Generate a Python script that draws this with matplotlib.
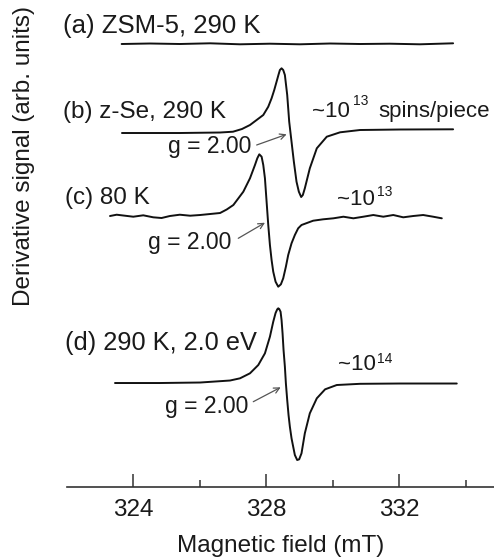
# EPR derivative spectra of ZSM-5 and z-Se, stacked with offsets.
import matplotlib
matplotlib.use("Agg")
import matplotlib.pyplot as plt
from matplotlib.ticker import MultipleLocator, FixedLocator

plt.rcParams["font.family"] = ["Liberation Sans", "DejaVu Sans"]

# (a) ZSM-5, 290 K : field (mT) and signal (arb. units)
field_a = [323.65, 324.50, 325.40, 326.31, 327.21, 328.11, 329.01, 329.92,
           330.82, 331.72, 332.62, 333.62]
signal_a = [0.0, 0.5, 0.0, 0.7, -0.3, 0.3, -0.3, 0.5, 0.0, 0.3, -0.3, 0.7]

# (b) z-Se, 290 K
field_b = [323.66, 325.40, 326.61, 327.00, 327.27, 327.51, 327.91, 328.06,
           328.16, 328.24, 328.31, 328.37, 328.41, 328.46, 328.51, 328.56,
           328.63, 328.69, 328.76, 328.83, 328.91, 328.98, 329.05, 329.10,
           329.16, 329.31, 329.52, 329.82, 330.22, 330.82, 332.02, 333.62]
signal_b = [0.0, 0.0, 0.5, 1.3, 4.0, 8.0, 18.0, 26.3,
            34.7, 43.0, 51.3, 58.5, 63.0, 64.7, 63.0, 58.0,
            38.0, 11.3, -8.7, -28.7, -48.7, -58.7, -64.0, -62.0,
            -55.3, -35.3, -15.3, -3.7, 0.7, 3.0, 3.5, 3.7]

# (c) z-Se, 80 K
field_c = [323.30, 323.50, 323.75, 324.00, 324.30, 324.60, 324.85, 325.10,
           325.40, 325.71, 326.01, 326.31, 326.61, 326.81, 327.01, 327.31,
           327.51, 327.66, 327.73, 327.79, 327.86, 327.91, 327.96, 328.01,
           328.06, 328.11, 328.16, 328.21, 328.28, 328.36, 328.44, 328.51,
           328.59, 328.66, 328.76, 328.86, 328.96, 329.06, 329.41, 329.71,
           330.02, 330.32, 330.62, 330.92, 331.22, 331.52, 331.82, 332.12,
           332.42, 332.72, 333.02, 333.28]
signal_c = [0.5, 1.8, 0.8, -0.2, 1.2, -0.8, -1.5, 0.5,
            1.8, 0.8, 1.5, 2.5, 3.5, 7.0, 11.5, 24.8,
            38.2, 51.5, 58.2, 62.2, 59.8, 51.5, 38.2, 14.8,
            -8.5, -28.5, -43.5, -55.2, -65.2, -70.2, -67.8, -61.8,
            -50.2, -38.5, -26.8, -18.5, -11.8, -8.5, -4.2, -2.8,
            -1.8, -0.2, -1.8, -0.2, 1.5, -0.2, 1.5, -0.8,
            0.5, 1.5, -0.2, -1.8]

# (d) z-Se, 290 K under 2.0 eV light
field_d = [323.45, 324.80, 326.01, 326.91, 327.21, 327.51, 327.76, 327.96,
           328.11, 328.21, 328.28, 328.33, 328.36, 328.39, 328.43, 328.46,
           328.49, 328.52, 328.56, 328.59, 328.63, 328.67, 328.71, 328.76,
           328.81, 328.86, 328.93, 328.99, 329.06, 329.11, 329.16, 329.31,
           329.52, 329.77, 330.12, 330.82, 332.02, 333.73]
signal_d = [0.0, 0.0, 0.5, 2.5, 4.7, 9.7, 18.0, 29.7,
            46.3, 61.3, 70.0, 73.7, 74.7, 74.0, 71.3, 63.0,
            49.7, 33.0, 16.3, -0.3, -17.0, -32.0, -43.7, -55.3,
            -63.7, -72.0, -77.0, -76.3, -70.3, -60.3, -50.3, -30.3,
            -15.3, -6.3, -2.0, -0.8, -0.5, -0.5]

# vertical offsets of the stacked spectra
offsets = [442.7, 353.7, 270.2, 103.7]

fig = plt.figure(figsize=(4.94, 5.59), dpi=100)
ax = fig.add_axes([0.1352, 0.1293, 0.8648, 0.8707])

series = [(field_a, signal_a), (field_b, signal_b), (field_c, signal_c), (field_d, signal_d)]
for (fx, sy), off in zip(series, offsets):
    ax.plot(fx, [v + off for v in sy], color="#111111", lw=1.4,
            solid_joinstyle="round", solid_capstyle="round")

ax.set_xlim(322, 334.85)
ax.set_ylim(0, 486.7)

# only the bottom axis is shown
for side in ["left", "top", "right"]:
    ax.spines[side].set_visible(False)
ax.spines["bottom"].set_color("#333333")
ax.spines["bottom"].set_linewidth(1.2)
ax.set_yticks([])
ax.xaxis.set_major_locator(MultipleLocator(4))
ax.xaxis.set_minor_locator(FixedLocator([326, 330, 334]))
ax.tick_params(axis="x", which="major", direction="in", length=9.5, width=1.1,
               color="#333333", labelsize=17.5, pad=9, labelcolor="#1a1a1a")
ax.tick_params(axis="x", which="minor", direction="in", length=4.8, width=1.1,
               color="#333333")
ax.set_xlabel("Magnetic field (mT)", fontsize=17.5, labelpad=10, color="#1a1a1a")

fig.text(24 / 494, 1 - 156 / 559, "Derivative signal (arb. units)", rotation=90,
         ha="center", va="center", fontsize=17.5, color="#1a1a1a")

# sample labels
tc = "#1a1a1a"
ax.text(321.895, 453.4, "(a) ZSM-5, 290 K", fontsize=18.5, color=tc, va="baseline")
ax.text(321.895, 368.4, "(b) z-Se, 290 K", fontsize=17.5, color=tc, va="baseline")
ax.text(321.946, 282.7, "(c) 80 K", fontsize=17.5, color=tc, va="baseline")
ax.text(321.946, 136.7, "(d) 290 K, 2.0 eV", fontsize=18.3, color=tc, va="baseline")

# spin counts: "~10" with a small raised exponent
ax.text(329.365, 370.0, "~10", fontsize=16, color=tc, va="baseline")
ax.text(330.617, 381.7, "13", fontsize=10, color=tc, va="baseline")
ax.text(331.368, 370.0, "spins/piece", fontsize=16, color=tc, va="baseline")
ax.text(330.117, 281.7, "~10", fontsize=16, color=tc, va="baseline")
ax.text(331.32, 290.7, "13", fontsize=10, color=tc, va="baseline")
ax.text(330.165, 116.7, "~10", fontsize=16, color=tc, va="baseline")
ax.text(331.32, 123.4, "14", fontsize=10, color=tc, va="baseline")

# g = 2.00 markers with arrows
g_labels = [(325.053, 333.4), (324.451, 237.4), (324.953, 73.4)]
arrows = [((327.711, 341.7), (328.613, 352.4)),
          ((327.158, 248.4), (327.961, 264.0)),
          ((327.609, 85.0), (328.433, 99.4))]
for (gx, gy), (tail, head) in zip(g_labels, arrows):
    ax.text(gx, gy, "g = 2.00", fontsize=16.5, color=tc, va="baseline")
    ax.annotate("", xy=head, xytext=tail,
                arrowprops=dict(arrowstyle="->", color="#555555", lw=0.9,
                                mutation_scale=10, shrinkA=0, shrinkB=0))

fig.savefig("out.png", dpi=100)
plt.close(fig)
